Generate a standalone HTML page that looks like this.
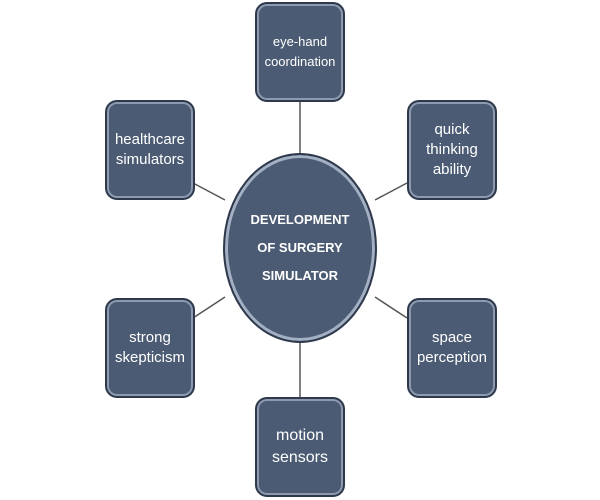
<!DOCTYPE html>
<html><head><style>
body{margin:0;width:600px;height:500px;background:#fff;position:relative;overflow:hidden;font-family:"Liberation Sans",sans-serif}
.b{position:absolute;width:86px;height:96px;background:#4b5b73;border:2px solid #2e3a4c;border-radius:12px;box-shadow:inset 0 0 0 2px #8d9ab0;color:#fff;display:flex;align-items:center;justify-content:center;text-align:center;font-size:15px;line-height:20px}
.e{position:absolute;left:223px;top:153px;width:150px;height:186px;border-radius:50%;background:#4b5b73;border:2px solid #2e3a4c;box-shadow:inset 0 0 0 3px #a3afc2;color:#fff;display:flex;align-items:center;justify-content:center;text-align:center;font-weight:bold;font-size:13px;line-height:28px}
svg{position:absolute;left:0;top:0}
</style></head><body>
<svg width="600" height="500" stroke="#555" stroke-width="1.5">
<line x1="300" y1="100" x2="300" y2="155"/>
<line x1="300" y1="340" x2="300" y2="398"/>
<line x1="193" y1="183" x2="225" y2="200"/>
<line x1="407" y1="183" x2="375" y2="200"/>
<line x1="193" y1="318" x2="225" y2="297"/>
<line x1="407" y1="318" x2="375" y2="297"/>
</svg>
<div class="b" style="left:255px;top:2px;font-size:13px">eye-hand<br>coordination</div>
<div class="b" style="left:105px;top:100px">healthcare<br>simulators</div>
<div class="b" style="left:407px;top:100px">quick<br>thinking<br>ability</div>
<div class="b" style="left:105px;top:298px">strong<br>skepticism</div>
<div class="b" style="left:407px;top:298px">space<br>perception</div>
<div class="b" style="left:255px;top:397px;font-size:16px;line-height:22px">motion<br>sensors</div>
<div class="e">DEVELOPMENT<br>OF SURGERY<br>SIMULATOR</div>
</body></html>
